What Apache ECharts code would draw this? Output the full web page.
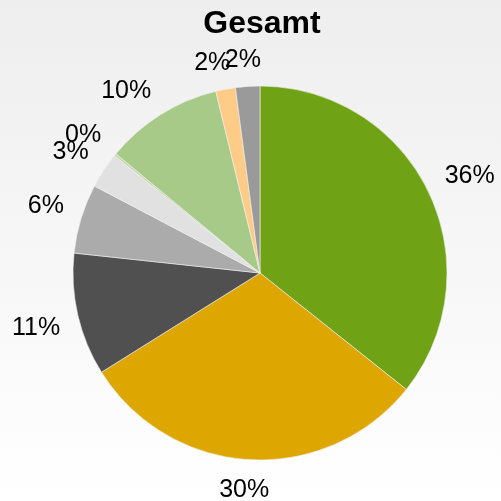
<!DOCTYPE html>
<html>
<head>
<meta charset="utf-8">
<script src="https://cdn.jsdelivr.net/npm/echarts@6/dist/echarts.min.js"></script>
<style>
html, body { margin: 0; padding: 0; }
#chart { width: 501px; height: 501px; }
</style>
</head>
<body>
<div id="chart"></div>
<script>
var names = ['Kat. 1', 'Kat. 2', 'Kat. 3', 'Kat. 4', 'Kat. 5', 'Kat. 6', 'Kat. 7', 'Kat. 8', 'Kat. 9'];
var values = [35.7, 30.4, 10.6, 6.0, 3.1, 0.2, 10.2, 1.7, 2.1];
var colors = ['#6fa214', '#dea600', '#505050', '#ababab', '#e1e1e1', '#c4d8b0', '#a8ca88', '#ffcc88', '#9a9a9a'];

var pieCenter = [260, 273];
var pieRadius = 187;
var labelSize = 25;

var chart = echarts.init(document.getElementById('chart'));

var data = [];
for (var i = 0; i < names.length; i++) {
    data.push({ name: names[i], value: values[i], itemStyle: { color: colors[i] } });
}

function clamp(v) { return Math.max(-1, Math.min(1, v)); }

// excel style: the label box corner nearest the pie sits on the slice's middle ray, a bit outside the edge
function placeLabel(params) {
    var r = params.labelRect;
    var lx = r.x + r.width / 2 - pieCenter[0];
    var ly = r.y + r.height / 2 - pieCenter[1];
    var len = Math.sqrt(lx * lx + ly * ly) || 1;
    var dx = lx / len, dy = ly / len;
    var d = pieRadius + 18;
    var hw = r.width / 2, hh = labelSize * 0.4;
    return {
        x: pieCenter[0] + dx * d + clamp(dx * 3) * hw,
        y: pieCenter[1] + dy * d + clamp(dy * 3) * hh + 2,
        align: 'center',
        verticalAlign: 'middle',
        hideOverlap: false
    };
}

chart.setOption({
    backgroundColor: {
        type: 'linear', x: 0, y: 0, x2: 0, y2: 1,
        colorStops: [{ offset: 0, color: '#eeeeee' }, { offset: 1, color: '#ffffff' }]
    },
    title: {
        text: 'Gesamt',
        left: 257,
        textAlign: 'center',
        top: 3,
        textStyle: { fontFamily: 'Liberation Sans', fontSize: 32, fontWeight: 'bold', color: '#000' }
    },
    series: [{
        type: 'pie',
        center: pieCenter,
        radius: pieRadius,
        startAngle: 90,
        clockwise: true,
        silent: true,
        avoidLabelOverlap: false,
        itemStyle: { borderColor: '#f0f0f0', borderWidth: 0.6 },
        label: {
            show: true,
            position: 'inside',
            fontFamily: 'Liberation Sans',
            fontSize: labelSize,
            color: '#000',
            formatter: function (p) { return Math.round(p.percent) + '%'; }
        },
        labelLine: { show: false },
        labelLayout: placeLabel,
        data: data
    }]
});
</script>
</body>
</html>
